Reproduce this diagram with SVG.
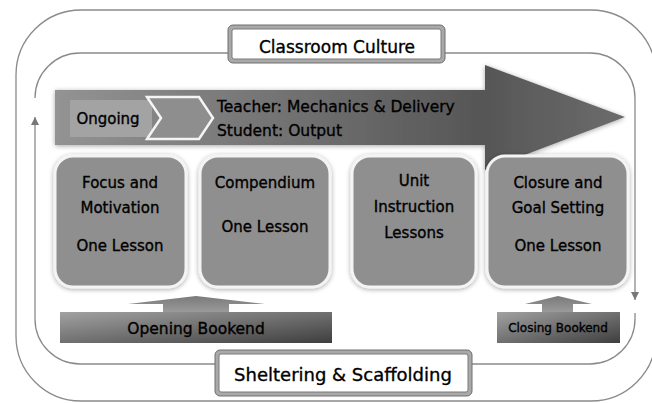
<svg xmlns="http://www.w3.org/2000/svg" width="652" height="403" viewBox="0 0 652 403">
<style>
text{font-family:"DejaVu Sans","Liberation Sans",sans-serif;fill:#000;stroke:#000;stroke-width:0.35;}
.t{font-size:15px;text-anchor:middle;}
.line{fill:none;stroke:#8a8a8a;stroke-width:1.3;}
.node{fill:#8f8f8f;stroke:#f4f4f4;stroke-width:3;filter:url(#sh);}
.lblo{fill:#a9a9a9;stroke:#6e6e6e;stroke-width:1;}
.lbli{fill:#fff;stroke:#7a7a7a;stroke-width:1;}
</style>
<defs>
<marker id="ah" viewBox="0 0 10 10" refX="10" refY="5" markerWidth="8" markerHeight="8" markerUnits="userSpaceOnUse" orient="auto">
<path d="M0,0 L10,5 L0,10 z" fill="#777"/>
</marker>
<linearGradient id="big" x1="55" y1="0" x2="625" y2="0" gradientUnits="userSpaceOnUse">
<stop offset="0" stop-color="#939393"/>
<stop offset="0.75" stop-color="#565656"/>
<stop offset="1" stop-color="#6c6c6c"/>
</linearGradient>
<linearGradient id="bar" x1="0" y1="0" x2="1" y2="1">
<stop offset="0" stop-color="#a2a2a2"/>
<stop offset="1" stop-color="#3e3e3e"/>
</linearGradient>
<linearGradient id="up" x1="0" y1="0" x2="0" y2="1">
<stop offset="0" stop-color="#7a7a7a"/>
<stop offset="1" stop-color="#9a9a9a"/>
</linearGradient>
<filter id="sh" x="-20%" y="-20%" width="140%" height="140%">
<feGaussianBlur in="SourceAlpha" stdDeviation="2.5"/>
<feOffset dx="0" dy="1" result="b"/>
<feComponentTransfer><feFuncA type="linear" slope="0.35"/></feComponentTransfer>
<feMerge><feMergeNode/><feMergeNode in="SourceGraphic"/></feMerge>
</filter>
</defs>

<path class="line" d="M16,75 A65,65 0 0 1 81,10 L591,10 A65,65 0 0 1 656,75 L656,336 A65,65 0 0 1 591,401 L81,401 A65,65 0 0 1 16,336 Z"/>

<g id="connectors">
<path class="line" d="M35,98 A45,45 0 0 1 80,53 L590,53 A45,45 0 0 1 635,98 L635,300" marker-end="url(#ah)"/>
<path class="line" d="M635,313 L635,319 A45,45 0 0 1 590,364 L80,364 A45,45 0 0 1 35,319 L35,117" marker-end="url(#ah)"/>
</g>

<g id="classroom-culture">
<rect class="lblo" x="228" y="25" width="217" height="38" rx="5"/>
<rect class="lbli" x="232" y="29" width="209" height="30" rx="2"/>
<text x="337" y="53" style="font-size:17px;text-anchor:middle;">Classroom Culture</text>
</g>

<g id="ongoing-arrow">
<polygon points="55,90 485,90 485,65 625,117 485,170 485,145 55,145" fill="url(#big)" filter="url(#sh)"/>
<rect x="70" y="100" width="82" height="37" fill="#a3a3a3"/>
<text x="108" y="124" style="font-size:15px;text-anchor:middle;">Ongoing</text>
<polygon points="147,97 199,97 213,118 199,139 147,139 161,118" fill="#8e8e8e" stroke="#f4f4f4" stroke-width="2.5"/>
<text x="217" y="112" style="font-size:15.5px;">Teacher: Mechanics &amp; Delivery</text>
<text x="217" y="136" style="font-size:15.5px;">Student: Output</text>
</g>

<g id="focus">
<rect class="node" x="55" y="156" width="131" height="131" rx="18"/>
<text class="t" x="120" y="188">Focus and</text>
<text class="t" x="120" y="213">Motivation</text>
<text class="t" x="120" y="251">One Lesson</text>
</g>

<g id="compendium">
<rect class="node" x="200" y="156" width="130" height="131" rx="18"/>
<text class="t" x="265" y="188">Compendium</text>
<text class="t" x="265" y="232">One Lesson</text>
</g>

<g id="unit">
<rect class="node" x="352" y="156" width="124" height="131" rx="18"/>
<text class="t" x="414" y="186">Unit</text>
<text class="t" x="414" y="212">Instruction</text>
<text class="t" x="414" y="238">Lessons</text>
</g>

<g id="closure">
<rect class="node" x="487" y="156" width="141" height="131" rx="18"/>
<text class="t" x="558" y="188">Closure and</text>
<text class="t" x="558" y="213">Goal Setting</text>
<text class="t" x="558" y="251">One Lesson</text>
</g>

<g id="opening-bookend">
<polygon points="128,304 196,296 265,304 229,304 229,312 163,312 163,304" fill="url(#up)"/>
<rect x="60" y="312" width="272" height="31" fill="url(#bar)"/>
<text x="196" y="334" style="font-size:15.5px;text-anchor:middle;">Opening Bookend</text>
</g>

<g id="closing-bookend">
<polygon points="525,304 558,296 592,304 573,304 573,312 542,312 542,304" fill="url(#up)"/>
<rect x="497" y="312" width="123" height="31" fill="url(#bar)"/>
<text x="558" y="332" style="font-size:12px;text-anchor:middle;">Closing Bookend</text>
</g>

<g id="sheltering">
<rect class="lblo" x="215" y="350" width="257" height="46" rx="5"/>
<rect class="lbli" x="219" y="354" width="249" height="38" rx="2"/>
<text x="343" y="381" style="font-size:18px;text-anchor:middle;">Sheltering &amp; Scaffolding</text>
</g>
</svg>
